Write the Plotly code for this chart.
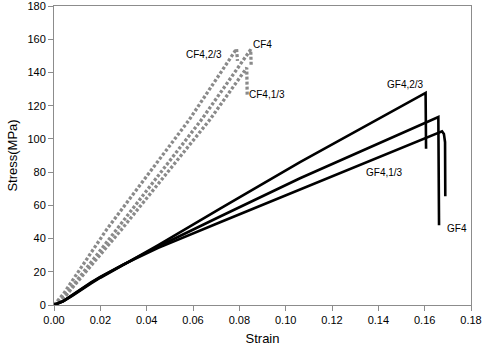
import plotly.graph_objects as go

# CF specimens (gray dotted)
cf23_x = [0.0, 0.004, 0.0227, 0.0584, 0.0788, 0.0792]
cf23_y = [0.0, 6.5, 45.4, 111.6, 154.2, 147.0]
cf4_x = [0.0, 0.005, 0.027, 0.0637, 0.0849, 0.0851]
cf4_y = [0.0, 6.0, 45.4, 111.6, 153.8, 144.5]
cf13_x = [0.0, 0.005, 0.0291, 0.0673, 0.0832, 0.0834]
cf13_y = [0.0, 5.5, 45.4, 111.6, 142.8, 125.7]

# GF specimens (black solid)
gf23_x = [0.0, 0.004, 0.008, 0.012, 0.016, 0.02, 0.025, 0.03, 0.035, 0.04, 0.045, 0.0717, 0.0847, 0.1062, 0.1604, 0.1606]
gf23_y = [0.0, 2.2, 5.6, 9.4, 13.0, 16.4, 20.4, 24.4, 28.3, 32.2, 36.0, 58.0, 68.5, 86.0, 127.7, 94.0]
gf4_x = [0.0, 0.004, 0.008, 0.012, 0.016, 0.02, 0.025, 0.03, 0.035, 0.04, 0.045, 0.0717, 0.0847, 0.1062, 0.1659, 0.1662]
gf4_y = [0.0, 2.3, 5.9, 9.8, 13.4, 16.8, 20.7, 24.5, 28.1, 31.7, 35.2, 53.3, 61.8, 76.3, 113.2, 48.0]
gf13_x = [0.0, 0.004, 0.008, 0.012, 0.016, 0.02, 0.025, 0.03, 0.035, 0.04, 0.045, 0.0717, 0.0847, 0.1062, 0.1675, 0.1683, 0.1688, 0.1689]
gf13_y = [0.0, 2.4, 6.1, 10.0, 13.6, 17.0, 20.8, 24.4, 27.8, 31.1, 34.4, 49.8, 57.2, 69.6, 104.6, 103.0, 98.0, 65.4]

labels = ["CF4,2/3", "CF4", "CF4,1/3", "GF4,2/3", "GF4,1/3", "GF4"]
label_x = [0.0649, 0.0902, 0.0919, 0.1516, 0.1425, 0.1741]
label_y = [150.8, 156.8, 126.7, 132.7, 79.7, 45.8]

x_ticks = [0.00, 0.02, 0.04, 0.06, 0.08, 0.10, 0.12, 0.14, 0.16, 0.18]
y_ticks = [0, 20, 40, 60, 80, 100, 120, 140, 160, 180]

fig = go.Figure()
gray = "#8a8a8a"
for xs, ys in [(cf23_x, cf23_y), (cf4_x, cf4_y), (cf13_x, cf13_y)]:
    fig.add_trace(go.Scatter(x=xs, y=ys, mode="lines",
                             line=dict(color=gray, width=3.3, dash="3px,2px"),
                             showlegend=False, hoverinfo="skip"))
for xs, ys in [(gf23_x, gf23_y), (gf4_x, gf4_y), (gf13_x, gf13_y)]:
    fig.add_trace(go.Scatter(x=xs, y=ys, mode="lines",
                             line=dict(color="black", width=2.6),
                             showlegend=False, hoverinfo="skip"))

font_family = "Liberation Sans, Arial"
for t, x, y in zip(labels, label_x, label_y):
    fig.add_annotation(x=x, y=y, text=t, showarrow=False,
                       font=dict(size=10, color="black", family=font_family))

axis_common = dict(showline=True, linecolor="#8c8c8c", linewidth=1, mirror=True,
                   ticks="outside", ticklen=5, tickcolor="#8c8c8c",
                   showgrid=False, zeroline=False, ticklabeloverflow="allow",
                   tickfont=dict(size=11, color="black", family=font_family))

fig.update_xaxes(range=[0, 0.18], tickvals=x_ticks,
                 ticktext=[f"{v:.2f}" for v in x_ticks],
                 title=dict(text="Strain", font=dict(size=13, color="black", family=font_family), standoff=8),
                 **axis_common)
fig.update_yaxes(range=[0, 180], tickvals=y_ticks,
                 title=dict(text="Stress(MPa)", font=dict(size=13, color="black", family=font_family), standoff=6),
                 **axis_common)

fig.update_layout(width=484, height=353,
                  margin=dict(l=54, r=13, t=6, b=48, autoexpand=False),
                  plot_bgcolor="white", paper_bgcolor="white")

fig.write_html("out.html", config={"displayModeBar": False},
               post_script="document.body.style.margin='0';document.body.style.overflow='hidden';")
